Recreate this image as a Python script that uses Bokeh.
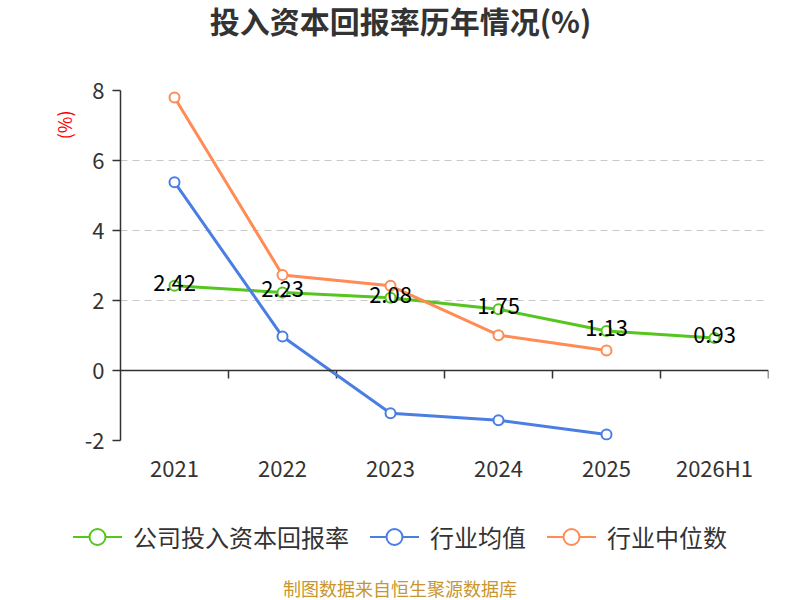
from bokeh.plotting import figure
from bokeh.layouts import column
from bokeh.models import (Range1d, LinearAxis, FixedTicker, Title, ColumnDataSource,
                          Span, Label, Div)
from bokeh.core.properties import value
from bokeh.embed import file_html
from bokeh.resources import INLINE

categories = ["2021", "2022", "2023", "2024", "2025", "2026H1"]
company = [2.42, 2.23, 2.08, 1.75, 1.13, 0.93]
industry_avg = [5.38, 0.97, -1.22, -1.42, -1.83]
industry_median = [7.80, 2.73, 2.42, 1.01, 0.57]
y_ticks = [-2, 0, 2, 4, 6, 8]
series_names = ["公司投入资本回报率", "行业均值", "行业中位数"]
title_text = "投入资本回报率历年情况(%)"
source_text = "制图数据来自恒生聚源数据库"

FONT = "Noto Sans CJK SC"
GREEN = "#55C520"
BLUE = "#4A7EE3"
ORANGE = "#FF8B55"
TEXT = "#333333"
W = 800
LEFT, RIGHT = 120, 32
TOP_H, MAIN_H, BOT_H = 45, 445, 110

n = len(categories)
xs = [i + 0.5 for i in range(n)]
y_lo, y_hi = y_ticks[0], y_ticks[-1]
FRAME_H = 350

# ---- title row (frame aligned with the chart frame, so x data = page px)
pt = figure(width=W, height=TOP_H, output_backend="svg", toolbar_location=None,
            x_range=Range1d(LEFT, W - RIGHT), y_range=Range1d(0, TOP_H), title=None,
            x_axis_location=None, y_axis_location=None,
            min_border_left=LEFT, min_border_right=RIGHT, min_border_top=0,
            min_border_bottom=0)
pt.outline_line_color = None
pt.grid.visible = False
pt.add_layout(Label(x=W / 2, y=TOP_H - 19, text=title_text, text_font=FONT,
                    text_font_size="30px", text_font_style="bold", text_color=TEXT,
                    text_align="center", text_baseline="middle"))

# ---- main chart
p = figure(width=W, height=MAIN_H, output_backend="svg", toolbar_location=None,
           x_range=Range1d(0, n), y_range=Range1d(y_lo, y_hi), title=None,
           x_axis_location=None, y_axis_location="left",
           min_border_left=LEFT, min_border_right=RIGHT, min_border_top=45,
           min_border_bottom=MAIN_H - 45 - FRAME_H)
p.outline_line_color = None

ya = p.yaxis[0]
ya.ticker = FixedTicker(ticks=y_ticks)
ya.major_label_overrides = {t: str(t) for t in y_ticks}
ya.axis_line_color = TEXT
ya.axis_line_width = 1.5
ya.major_tick_line_color = TEXT
ya.major_tick_line_width = 1.5
ya.major_tick_in = 0
ya.major_tick_out = 8
ya.minor_tick_line_color = None
ya.major_label_text_font = FONT
ya.major_label_text_font_size = "22px"
ya.major_label_text_color = TEXT
ya.major_label_standoff = 8

p.add_layout(Title(text="(%)", align="right", text_color="red", text_font=FONT,
                   text_font_size="18px", text_font_style="normal", offset=20), "left")

p.xgrid.visible = False
p.ygrid.ticker = FixedTicker(ticks=y_ticks)
p.ygrid.grid_line_color = "#c8c8c8"
p.ygrid.grid_line_dash = "7 5"
p.ygrid.grid_line_width = 1.2

label_axis = LinearAxis(ticker=FixedTicker(ticks=xs),
                        major_label_overrides={x: c for x, c in zip(xs, categories)},
                        axis_line_color=None, major_tick_line_color=None,
                        minor_tick_line_color=None, major_label_standoff=4,
                        major_label_text_font=FONT, major_label_text_font_size="22px",
                        major_label_text_color=TEXT)
p.add_layout(label_axis, "below")

p.add_layout(Span(location=0, dimension="width", line_color=TEXT, line_width=1.5))
tick_len = 8 * (y_hi - y_lo) / FRAME_H
bounds = list(range(1, n + 1))
p.segment(x0=bounds, y0=[0] * n, x1=bounds, y1=[-tick_len] * n,
          line_color=TEXT, line_width=1.5)

series = [(company, GREEN), (industry_avg, BLUE), (industry_median, ORANGE)]
for vals, col in series:
    src = ColumnDataSource(dict(x=xs[:len(vals)], y=vals))
    p.line("x", "y", source=src, line_color=col, line_width=3)
    p.scatter("x", "y", source=src, size=10, fill_color="white", line_color=col,
              line_width=2)

lbl_src = ColumnDataSource(dict(x=xs, y=company, t=[f"{v:.2f}" for v in company]))
p.text("x", "y", text="t", source=lbl_src, text_font=value(FONT), text_font_size="22px",
       text_align="center", text_baseline="middle", y_offset=-3, text_color="black")

# ---- legend + source row
def legend_item(name, col, first):
    sym = (f'<svg width="49" height="20" style="display:block">'
           f'<line x1="0" y1="10" x2="49" y2="10" stroke="{col}" stroke-width="2"/>'
           f'<circle cx="24.5" cy="10" r="8" fill="white" stroke="{col}" '
           f'stroke-width="2"/></svg>')
    ml = "0" if first else "21px"
    return (f'<div style="display:flex;align-items:center;margin-left:{ml}">{sym}'
            f'<span style="margin-left:11px">{name}</span></div>')


items_html = "".join(legend_item(nm, col, i == 0)
                     for i, (nm, (_, col)) in enumerate(zip(series_names, series)))
html = (f'<div style="position:relative;width:{W}px;height:{BOT_H}px;'
        f'font-family:\'{FONT}\';">'
        f'<div style="position:absolute;left:0;top:32px;width:{W}px;height:30px;'
        f'display:flex;justify-content:center;align-items:center;'
        f'font-size:24px;line-height:30px;color:{TEXT}">{items_html}</div>'
        f'<div style="position:absolute;left:0;top:88px;width:{W}px;text-align:center;'
        f'font-size:18px;line-height:20px;color:#C8962E">{source_text}</div>'
        f'</div>')
pb = Div(text=html, width=W, height=BOT_H, margin=(0, 0, 0, 0))

layout = column(pt, p, pb, spacing=0)
open("out.html", "w").write(file_html(layout, INLINE))
